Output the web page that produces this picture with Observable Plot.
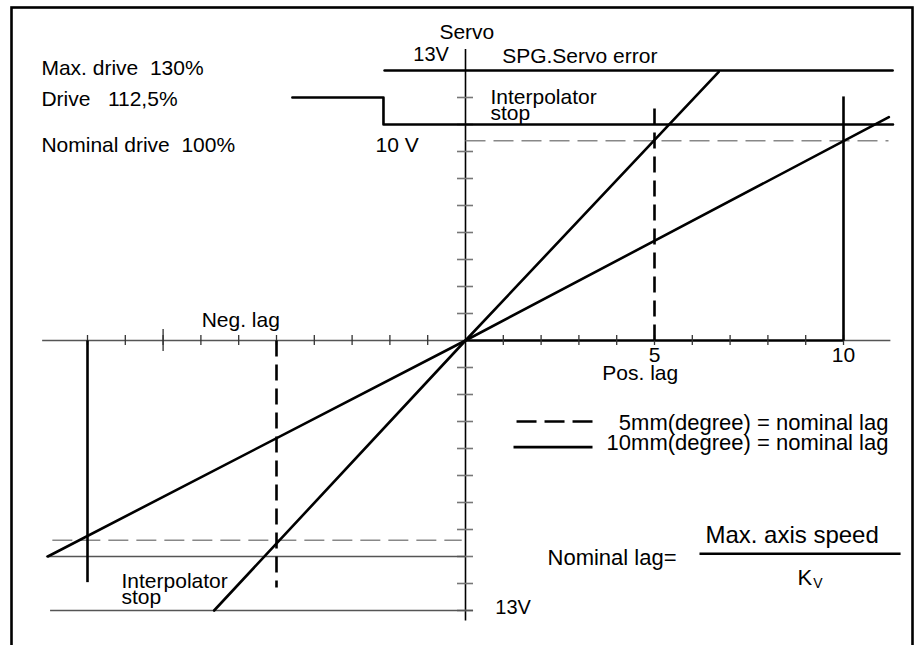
<!DOCTYPE html>
<html><head><meta charset="utf-8">
<script src="https://cdn.jsdelivr.net/npm/d3@7"></script>
<script src="https://cdn.jsdelivr.net/npm/@observablehq/plot@0.6"></script>
<style>
html,body{margin:0;padding:0;background:#fff;}
#chart{width:918px;height:645px;overflow:hidden;}
</style>
</head><body><div id="chart"></div>
<script>
// x: lag in mm (degree); y: servo output in tick units (13V = 10 ticks)
const lagTicks = [-10,-9,-8,-7,-6,-5,-4,-3,-2,-1,1,2,3,4,5,6,7,8,9,10];
const longLagTicks = [-8];
const servoTicks = [-10,-9,-8,-7,-6,-5,-4,-3,-2,-1,1,2,3,4,5,6,7,8,9];
const lagTickLabels = [5, 10];
const nominalLags = [5, 10];            // mm(degree) = nominal lag
const nominalLevel = 7.4;               // 10 V  (nominal drive 100%)
const interpStopLevel = 8;              // interpolator stop
const driveLevel = 9;                   // drive 112,5%
const maxLevel = 10;                    // 13 V (max drive 130%)

// characteristic lines: [lag, servo]
const line5mm  = [[-6.65, -10], [0, 0], [6.7, 9.95]];
const line10mm = [[-11.05, -8.0], [0, 0], [11.2, 8.27]];
const stepLine = [[-4.58, driveLevel], [-2.17, driveLevel], [-2.17, interpStopLevel], [11.31, interpStopLevel]];
const maxLine  = [[-2.14, maxLevel], [11.3, maxLevel]];
// vertical markers at +/- nominal lags: [lag, end level, dashed?]
const lagMarkers = [[5, 8.78, true], [10, 9.04, false], [-5, -9.15, true], [-10, -8.95, false]];
// limit lines: [from lag, to lag, level]
const lowerDashed = [-10.93, -0.1, -nominalLevel];
const lowerStop = [-11.1, 0, -interpStopLevel];
const lowerMax = [-10.99, 0.2, -maxLevel];
const upperDashed = [0, 11.19, nominalLevel];

const labels = [
  {t: "Max. drive  130%", x: -11.22, y: 10.07, a: "start", s: 21},
  {t: "Drive   112,5%", x: -11.22, y: 8.93, a: "start", s: 21},
  {t: "Nominal drive  100%", x: -11.22, y: 7.22, a: "start", s: 21},
  {t: "10 V", x: -2.38, y: 7.22, a: "start", s: 21},
  {t: "13V", x: -1.38, y: 10.59, a: "start", s: 20},
  {t: "Servo", x: -0.69, y: 11.41, a: "start", s: 21},
  {t: "SPG.Servo error", x: 0.97, y: 10.52, a: "start", s: 21},
  {t: "Interpolator", x: 0.66, y: 9.0, a: "start", s: 21},
  {t: "stop", x: 0.66, y: 8.41, a: "start", s: 21},
  {t: "Neg. lag", x: -6.98, y: 0.74, a: "start", s: 21},
  {t: "Pos. lag", x: 3.62, y: -1.22, a: "start", s: 21},
  {t: "5mm(degree) = nominal lag", x: 11.19, y: -3.07, a: "end", s: 22},
  {t: "10mm(degree) = nominal lag", x: 11.19, y: -3.81, a: "end", s: 22},
  {t: "Interpolator", x: -9.1, y: -8.93, a: "start", s: 21},
  {t: "stop", x: -9.1, y: -9.52, a: "start", s: 21},
  {t: "13V", x: 0.79, y: -9.89, a: "start", s: 20},
  {t: "Nominal lag=", x: 2.17, y: -8.04, a: "start", s: 22},
  {t: "Max. axis speed", x: 8.64, y: -7.22, a: "middle", s: 24},
  {t: "K", x: 8.78, y: -8.81, a: "start", s: 22},
  {t: "V", x: 9.2, y: -9.0, a: "start", s: 14}
];
const legendKeys = [
  {x1: 1.35, x2: 3.36, y: -3.0, dashed: true},
  {x1: 1.27, x2: 3.36, y: -3.95, dashed: false}
];
const fractionBar = [6.19, 11.51, -7.9];
const axisX = [-11.2, 0, 10, 11.24];
const axisY = [-10.37, 10.8];

const pts = arr => arr.map(([x, y]) => ({x, y}));
const seg = (x1, x2, y1, y2) => ({x1, x2, y1, y2});
const thick = {stroke: "#000", strokeWidth: 2.6};
const thin = {stroke: "#555", strokeWidth: 1.4};
const L = {x1: "x1", x2: "x2", y1: "y1", y2: "y2"};
const textMarks = ["start", "middle", "end"].map(a =>
  Plot.text(labels.filter(d => d.a === a), {x: "x", y: "y", text: "t", textAnchor: a, fontSize: "s", fill: "#000"}));

const chart = Plot.plot({
  width: 918, height: 645,
  marginLeft: 11, marginTop: 7, marginRight: 6, marginBottom: 0,
  x: {domain: [-10, 10], range: [87, 843], axis: null},
  y: {domain: [-10, 10], range: [610, 70], axis: null},
  style: {fontFamily: "'Liberation Sans', Arial, Helvetica, sans-serif", background: "#fff", color: "#000"},
  marks: [
    Plot.frame({stroke: "#000", strokeWidth: 2.6, insetBottom: -20}),
    // axes
    Plot.link([seg(axisX[0], axisX[1], 0, 0), seg(axisX[2], axisX[3], 0, 0)], {...L, ...thin}),
    Plot.link([seg(axisX[1], axisX[2], 0, 0)], {...L, stroke: "#000", strokeWidth: 2.4}),
    Plot.link([seg(0, 0, axisY[0], axisY[1])], {...L, stroke: "#000", strokeWidth: 1.6}),
    Plot.ruleX(lagTicks, {x: d => d, y1: 0, y2: 0, insetTop: -5, insetBottom: -5, stroke: "#333", strokeWidth: 1.3}),
    Plot.ruleX(longLagTicks, {x: d => d, y1: 0, y2: 0, insetTop: -11, insetBottom: -11, stroke: "#333", strokeWidth: 1.3}),
    Plot.ruleY(servoTicks, {y: d => d, x1: 0, x2: 0, insetLeft: -8, insetRight: -8, stroke: "#777", strokeWidth: 1.6}),
    // gray limit lines
    Plot.link([seg(upperDashed[0], upperDashed[1], upperDashed[2], upperDashed[2]), seg(lowerDashed[0], lowerDashed[1], lowerDashed[2], lowerDashed[2])],
      {...L, stroke: "#888", strokeWidth: 1.5, strokeDasharray: "20,8"}),
    Plot.link([seg(lowerStop[0], lowerStop[1], lowerStop[2], lowerStop[2]), seg(lowerMax[0], lowerMax[1], lowerMax[2], lowerMax[2])], {...L, ...thin}),
    // thick levels
    Plot.line(pts(maxLine), {x: "x", y: "y", ...thick}),
    Plot.line(pts(stepLine), {x: "x", y: "y", ...thick}),
    // lag markers
    Plot.link(lagMarkers.filter(d => d[2]), {x1: d => d[0], x2: d => d[0], y1: 0, y2: d => d[1], ...thick, strokeDasharray: "16,8"}),
    Plot.link(lagMarkers.filter(d => !d[2]), {x1: d => d[0], x2: d => d[0], y1: 0, y2: d => d[1], ...thick}),
    // characteristic lines
    Plot.line(pts(line5mm), {x: "x", y: "y", ...thick}),
    Plot.line(pts(line10mm), {x: "x", y: "y", ...thick}),
    // tick labels
    Plot.text(lagTickLabels, {x: d => d, y: -0.56, text: d => String(d), fontSize: 21, textAnchor: "middle"}),
    // legend keys
    Plot.link(legendKeys.filter(d => d.dashed), {x1: "x1", x2: "x2", y1: "y", y2: "y", ...thick, strokeDasharray: "20,8"}),
    Plot.link(legendKeys.filter(d => !d.dashed), {x1: "x1", x2: "x2", y1: "y", y2: "y", ...thick}),
    // fraction bar
    Plot.link([seg(fractionBar[0], fractionBar[1], fractionBar[2], fractionBar[2])], {...L, ...thick}),
    // labels
    ...textMarks
  ]
});
document.getElementById("chart").appendChild(chart);
</script></body></html>
